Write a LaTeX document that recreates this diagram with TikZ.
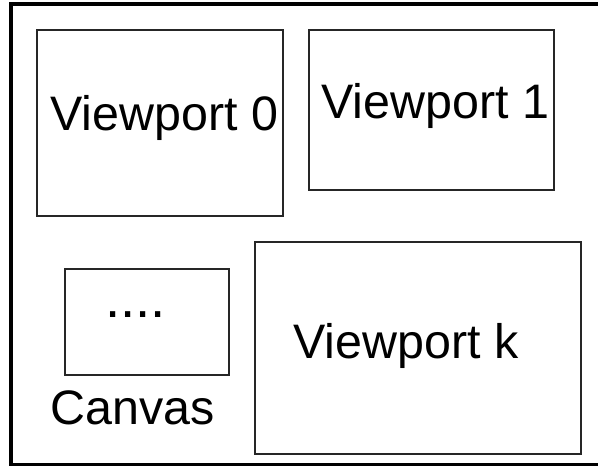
\documentclass[tikz,border=0pt]{standalone}
\usepackage{fontspec}
\setmainfont{Liberation Sans}
\begin{document}
\begin{tikzpicture}[x=0.75pt,y=-0.75pt,
  box/.style={draw=black!85,line width=1.5pt,inner sep=0pt,outer sep=0pt,rectangle},
  lbl/.style={inner sep=0pt,anchor=base west,font=\fontsize{36.3pt}{40pt}\selectfont}]
\useasboundingbox (0,0) rectangle (598,467);
% outer frame (open on the right)
\coordinate (ftr) at (600,4);
\coordinate (ftl) at (11,4);
\coordinate (fbl) at (11,464.5);
\coordinate (fbr) at (600,464.5);
\draw[line width=2.5pt] (ftr) -- (ftl) -- (fbl) -- (fbr);
% boxes
\node[box,minimum width=184.5pt,minimum height=139.5pt] (v0) at (160,123) {};
\node[box,minimum width=183.75pt,minimum height=120pt] (v1) at (431.5,110) {};
\node[box,minimum width=123pt,minimum height=79.5pt] (cv) at (147,322) {};
\node[box,minimum width=244.5pt,minimum height=159pt] (vk) at (418,348) {};
% labels
\node[lbl] (t0) at (50,130) {Viewport 0};
\node[lbl] (t1) at (321,118) {Viewport 1};
\node[lbl] (tk) at (293,358) {Viewport k};
\node[lbl] (tc) at (50,424) {Canvas};
\node[lbl,font=\fontsize{41pt}{45pt}\selectfont] (td) at (105,317) {....};
\end{tikzpicture}
\end{document}
